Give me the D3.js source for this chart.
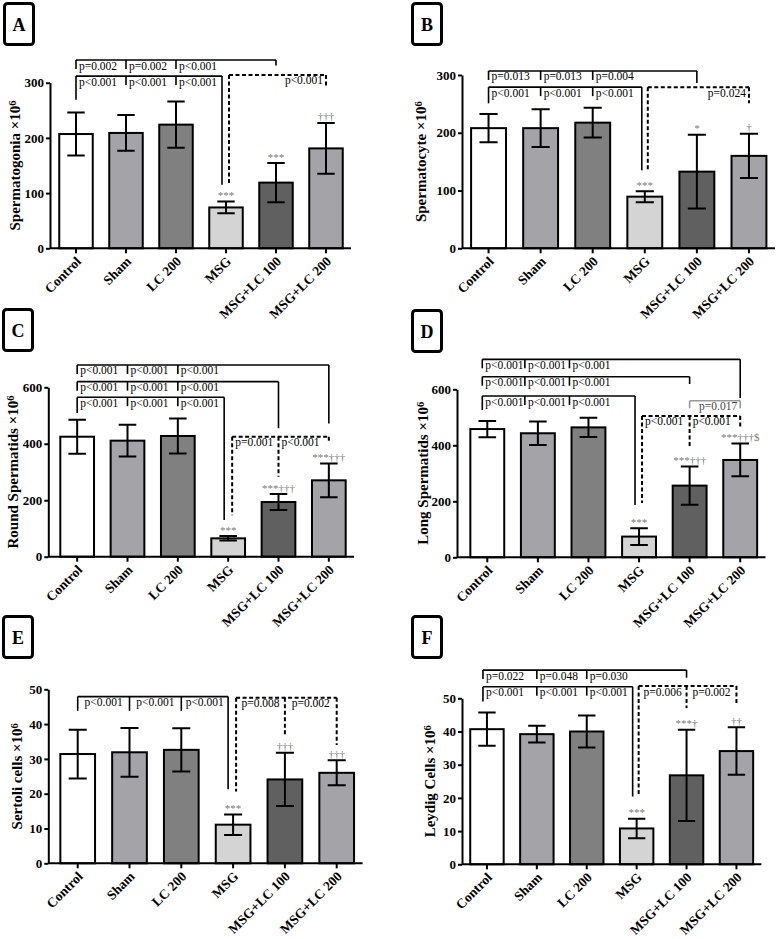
<!DOCTYPE html>
<html>
<head>
<meta charset="utf-8">
<script src="https://cdn.jsdelivr.net/npm/d3@7"></script>
<style>
body { margin: 0; background: #fff; }
svg text { font-family: "Liberation Serif", "Times New Roman", serif; }
</style>
</head>
<body>
<svg id="fig" width="777" height="939" viewBox="0 0 777 939"></svg>
<script>
// groups and bar shading
const groups = ["Control", "Sham", "LC 200", "MSG", "MSG+LC 100", "MSG+LC 200"];
const barFill = ["#ffffff", "#a3a3a8", "#808080", "#d4d4d4", "#606060", "#a3a3a8"];

// means and SD
const spermatogoniaMean = [207, 209, 224, 74, 119, 181];
const spermatogoniaSD   = [39, 32.5, 42, 10.7, 35.5, 46];
const spermatocyteMean  = [208, 208, 217.5, 89.4, 132.7, 160];
const spermatocyteSD    = [24.5, 32.8, 25.8, 9.5, 63.7, 38.5];
const roundMean = [425, 411, 427.6, 65, 193.7, 270.5];
const roundSD   = [60.5, 56, 62, 8, 28, 60];
const longMean  = [458, 443, 464, 74, 256, 347.6];
const longSD    = [29, 42, 34, 30, 68.5, 58.5];
const sertoliMean = [31.4, 31.9, 32.6, 11.1, 24.1, 26];
const sertoliSD   = [7, 7, 6.2, 2.95, 7.65, 3.6];
const leydigMean  = [40.7, 39.2, 40, 10.8, 26.8, 34.1];
const leydigSD    = [5, 2.55, 4.85, 2.95, 13.75, 7.15];

// significance marks over bars
const marksA = ["", "", "", "***", "***", "†††"];
const marksB = ["", "", "", "***", "*", "†"];
const marksC = ["", "", "", "***", "***†††", "***†††"];
const marksD = ["", "", "", "***", "***†††", "***†††$"];
const marksE = ["", "", "", "***", "†††", "†††"];
const marksF = ["", "", "", "***", "***†", "††"];

// comparison brackets: y level (data units), stops [group, drop-to value, shift px]
const lt = "p<0.001";
const bracketsA = [
  { y: 341, stops: [[0], [1], [2], [4, 331]], labels: ["p=0.002", "p=0.002", lt] },
  { y: 312, stops: [[0, 269], [1], [2], [3, 115, -4]], labels: [lt, lt, lt] },
  { y: 314, dash: true, stops: [[3, 115, 3], [5, 292]], labels: [lt], align: "end" }
];
const bracketsB = [
  { y: 307, stops: [[0], [1], [2], [4, 286]], labels: ["p=0.013", "p=0.013", "p=0.004"] },
  { y: 279, stops: [[0, 251], [1], [2], [3, 135, -3]], labels: [lt, lt, lt] },
  { y: 279, dash: true, stops: [[3, 135, 3], [5, 251]], labels: ["p=0.024"], align: "end" }
];
const bracketsC = [
  { y: 679, stops: [[0], [1], [2], [5, 472]], labels: [lt, lt, lt] },
  { y: 620, stops: [[0], [1], [2], [4, 455]], labels: [lt, lt, lt] },
  { y: 565, stops: [[0, 509], [1], [2], [3, 130, -4]], labels: [lt, lt, lt] },
  { y: 425, dash: true, stops: [[3, 147, 4], [4, 283], [5, 407]], labels: ["p=0.001", lt] }
];
const bracketsD = [
  { y: 707, stops: [[0, null, -5], [1, null, -13], [2, null, -19], [5, 569]], labels: [lt, lt, lt] },
  { y: 645, stops: [[0, null, -5], [1, null, -13], [2, null, -19], [4, 619]], labels: [lt, lt, lt] },
  { y: 576, stops: [[0, 526, -5], [1, null, -13], [2, null, -19], [3, 187, -4]], labels: [lt, lt, lt] },
  { y: 559, grey: true, stops: [[4, 532], [5, 532]], labels: ["p=0.017"], align: "end" },
  { y: 505, dash: true, stops: [[3, 194, 3], [4, 395], [5, 466]], labels: [lt, lt] }
];
const bracketsE = [
  { y: 47.9, stops: [[0, 43.8], [1, 43.8], [2, 43.8], [3, 21.3, -5]], labels: [lt, lt, lt], align: "middle" },
  { y: 47.6, dash: true, stops: [[3, 20.6, 3], [4, 36.6], [5, 34]], labels: ["p=0.008", "p=0.002"], align: "middle" }
];
const bracketsF = [
  { y: 58.5, stops: [[0, null, -4], [1], [2], [4, 56.2]], labels: ["p=0.022", "p=0.048", "p=0.030"] },
  { y: 53.5, stops: [[0, 49, -4], [1], [2], [3, 20.4, -4]], labels: [lt, lt, lt] },
  { y: 53.7, dash: true, stops: [[3, 20.4, 2], [4, 47.1], [5, 48]], labels: ["p=0.006", "p=0.002"], align: "middle" }
];

// panel layout (pixels)
const panels = [
  { letter: "A", title: "Spermatogonia", max: 300, step: 100, mean: spermatogoniaMean, sd: spermatogoniaSD, marks: marksA, brackets: bracketsA,
    ax: 50, bx0: 51, bx1: 351, y0: 248.3, yTop: 82.7, titleX: 15, box: [3, 2] },
  { letter: "B", title: "Spermatocyte", max: 300, step: 100, mean: spermatocyteMean, sd: spermatocyteSD, marks: marksB, brackets: bracketsB,
    ax: 462, bx0: 462.5, bx1: 775, y0: 248.3, yTop: 75, titleX: 421, box: [411, 2] },
  { letter: "C", title: "Round Spermatids", max: 600, step: 200, mean: roundMean, sd: roundSD, marks: marksC, brackets: bracketsC,
    ax: 48.3, bx0: 52, bx1: 354, y0: 556.7, yTop: 387.3, titleX: 13, box: [2, 308] },
  { letter: "D", title: "Long Spermatids", max: 600, step: 200, mean: longMean, sd: longSD, marks: marksD, brackets: bracketsD,
    ax: 457, bx0: 462, bx1: 765.5, y0: 557.3, yTop: 389.3, titleX: 423, box: [411, 309] },
  { letter: "E", title: "Sertoli cells", max: 50, step: 10, mean: sertoliMean, sd: sertoliSD, marks: marksE, brackets: bracketsE,
    ax: 48.3, bx0: 51.8, bx1: 362.6, y0: 863.3, yTop: 689.3, titleX: 17, box: [2, 615] },
  { letter: "F", title: "Leydig Cells", max: 50, step: 10, mean: leydigMean, sd: leydigSD, marks: marksF, brackets: bracketsF,
    ax: 462, bx0: 462, bx1: 761.4, y0: 864.3, yTop: 698.3, titleX: 430, box: [411, 615] }
];

const svg = d3.select("#fig");

panels.forEach(p => {
  const g = svg.append("g");
  const x = d3.scaleBand().domain(groups).range([p.bx0, p.bx1]).paddingInner(0.33).paddingOuter(0.165);
  const y = d3.scaleLinear().domain([0, p.max]).range([p.y0, p.yTop]);
  const cx = i => x(groups[i]) + x.bandwidth() / 2;

  // panel letter box
  g.append("rect")
    .attr("x", p.box[0] + 1.5).attr("y", p.box[1] + 1.5)
    .attr("width", 29).attr("height", 41).attr("rx", 3)
    .attr("fill", "none").attr("stroke", "#000").attr("stroke-width", 3);
  g.append("text")
    .attr("x", p.box[0] + 16).attr("y", p.box[1] + 28.5)
    .attr("text-anchor", "middle").attr("font-weight", "bold").attr("font-size", 18)
    .text(p.letter);

  // bars
  g.selectAll(".bar").data(p.mean).join("rect")
    .attr("x", (d, i) => x(groups[i]))
    .attr("y", d => y(d))
    .attr("width", x.bandwidth())
    .attr("height", d => p.y0 - y(d))
    .attr("fill", (d, i) => barFill[i])
    .attr("stroke", "#000").attr("stroke-width", 2);

  // error bars
  const cap = x.bandwidth() * 0.26;
  p.mean.forEach((m, i) => {
    const c = cx(i), hi = y(m + p.sd[i]), lo = y(m - p.sd[i]);
    g.append("path")
      .attr("d", `M${c},${hi}V${lo}M${c - cap},${hi}H${c + cap}M${c - cap},${lo}H${c + cap}`)
      .attr("stroke", "#000").attr("stroke-width", 2).attr("fill", "none");
    if (p.marks[i]) {
      g.append("text")
        .attr("x", c).attr("y", hi - 2.5)
        .attr("text-anchor", "middle").attr("font-size", 11).attr("fill", "#7a7a7a")
        .text(p.marks[i]);
    }
  });

  // y axis
  const ya = g.append("g").attr("transform", `translate(${p.ax},0)`)
    .call(d3.axisLeft(y).tickValues(d3.range(0, p.max + 1, p.step)).tickSize(4).tickSizeOuter(0).tickPadding(2));
  ya.selectAll("path, line").attr("stroke-width", 2);
  ya.selectAll("text").attr("font-family", "Liberation Serif").attr("font-weight", "bold").attr("font-size", 13).attr("fill", "#000");

  // x axis
  const xa = g.append("g").attr("transform", `translate(0,${p.y0})`)
    .call(d3.axisBottom(x).tickSize(5).tickSizeOuter(0));
  xa.select(".domain").attr("d", `M${p.ax},0H${p.bx1}`);
  xa.selectAll("path, line").attr("stroke-width", 2);
  xa.selectAll("text")
    .attr("y", 0).attr("dy", 0)
    .attr("transform", "translate(6,14) rotate(-45)")
    .attr("text-anchor", "end")
    .attr("font-family", "Liberation Serif").attr("font-weight", "bold").attr("font-size", 13.5).attr("fill", "#000");

  // y title
  const t = g.append("text")
    .attr("transform", `translate(${p.titleX},${(p.y0 + p.yTop) / 2}) rotate(-90)`)
    .attr("dy", "0.35em")
    .attr("text-anchor", "middle").attr("font-weight", "bold").attr("font-size", 15);
  t.append("tspan").text(p.title + " ×10");
  t.append("tspan").attr("dy", "-0.45em").attr("font-size", 10.5).text("6");

  // comparison brackets
  p.brackets.forEach(b => {
    const yl = y(b.y);
    const col = b.grey ? "#9a9a9a" : "#000";
    const pts = b.stops.map(s => ({
      x: cx(s[0]) + (s[2] || 0),
      end: s[1] != null ? y(s[1]) : yl + 9
    }));
    const bg = g.append("g")
      .attr("stroke", col).attr("fill", "none")
      .attr("stroke-width", b.dash ? 2 : 1.6)
      .attr("stroke-dasharray", b.dash ? "4,2.5" : null);
    bg.append("line")
      .attr("x1", pts[0].x).attr("x2", pts[pts.length - 1].x)
      .attr("y1", yl).attr("y2", yl);
    bg.selectAll(".drop").data(pts).join("line")
      .attr("x1", d => d.x).attr("x2", d => d.x)
      .attr("y1", yl).attr("y2", d => d.end);

    const align = b.align || "start";
    b.labels.forEach((lab, k) => {
      const a = pts[k].x, e = pts[k + 1].x;
      let tx = a + 3, anchor = "start";
      if (align === "end") { tx = e - 3; anchor = "end"; }
      if (align === "middle") { tx = (a + e) / 2; anchor = "middle"; }
      g.append("text")
        .attr("x", tx).attr("y", yl + 9.5)
        .attr("text-anchor", anchor).attr("font-size", 11.5)
        .attr("fill", b.grey ? "#444" : "#000")
        .text(lab);
    });
  });
});
</script>
</body>
</html>
